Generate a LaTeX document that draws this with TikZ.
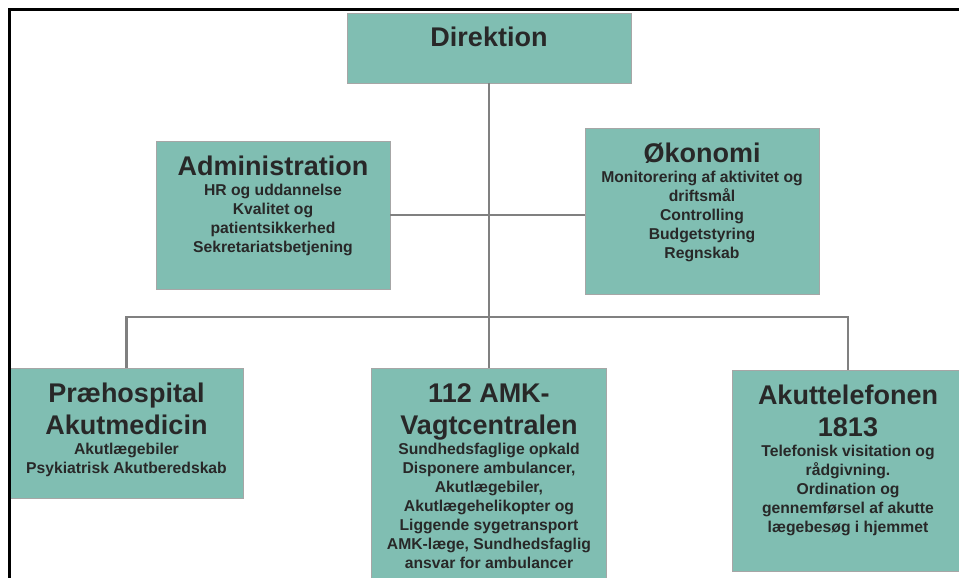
\documentclass[tikz,border=0pt]{standalone}
\usepackage{fontspec}
\setmainfont{Liberation Sans}
\definecolor{unitfill}{RGB}{128,190,178}
\definecolor{unitedge}{RGB}{166,166,166}
\definecolor{linkgray}{RGB}{128,128,128}
\definecolor{unitink}{RGB}{40,40,40}
\newcommand{\unittitlefont}{\bfseries\fontsize{27}{32}\selectfont}
\newcommand{\unititemfont}{\bfseries\fontsize{15.7}{19}\selectfont}
\newcommand{\unitbody}[4]{\parbox[c][#2][t]{#1}{\centering
  {\unittitlefont\rule{0pt}{34pt}#3\par}\vspace{1pt}
  {\unititemfont #4\par}}}
\tikzset{
  unitbox/.style={draw=unitedge, line width=0.8pt, fill=unitfill, text=unitink, inner sep=0pt, outer sep=0pt},
  link/.style={draw=linkgray, line width=2.5pt},
  frame/.style={draw=black, line width=2.2pt}
}
\begin{document}
\begin{tikzpicture}[x=1pt, y=-1pt]
         \useasboundingbox (0, 0) rectangle (959, 578);
         \clip (0, 0) rectangle (959, 578);
         \node [unitbox] (dir) at (489, 48) {\unitbody{284pt}{70pt}{Direktion}{}};
         \node [unitbox] (adm) at (273, 215) {\unitbody{234pt}{148pt}{Administration}{HR og uddannelse\\ Kvalitet og\\ patientsikkerhed\\ Sekretariatsbetjening}};
         \node [unitbox] (oko) at (702, 211) {\unitbody{234pt}{166pt}{Økonomi}{Monitorering af aktivitet og\\ driftsmål\\ Controlling\\ Budgetstyring\\ Regnskab}};
         \node [unitbox] (pra) at (126.5, 433) {\unitbody{233pt}{130pt}{Præhospital\\ Akutmedicin}{Akutlægebiler\\ Psykiatrisk Akutberedskab}};
         \node [unitbox] (amk) at (489, 488) {\unitbody{235pt}{240pt}{112 AMK-\\ Vagtcentralen}{Sundhedsfaglige opkald\\ Disponere ambulancer,\\ Akutlægebiler,\\ Akutlægehelikopter og\\ Liggende sygetransport\\ AMK-læge, Sundhedsfaglig\\ ansvar for ambulancer}};
         \node [unitbox] (tel) at (848, 470.5) {\unitbody{232pt}{201pt}{Akuttelefonen\\ 1813}{Telefonisk visitation og\\ rådgivning.\\ Ordination og\\ gennemførsel af akutte\\ lægebesøg i hjemmet}};
         \coordinate (bus) at (489, 317);
         \draw [link] (dir) -- (amk);
         \draw [link] (adm.east) -- (adm.east -| oko.west);
         \draw [link] (pra.north) |- (bus) -| (tel.north);
         \draw [frame] (9.5, 590) |- (970, 9.5);
        \end{tikzpicture}
\end{document}
